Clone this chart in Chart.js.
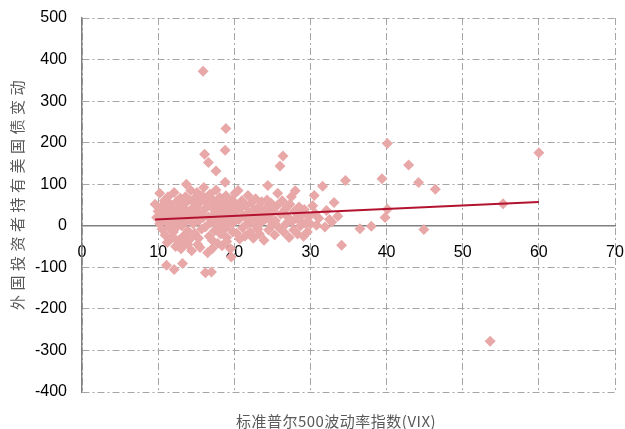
<!DOCTYPE html>
<html>
<head>
<meta charset="utf-8">
<script src="https://cdn.jsdelivr.net/npm/chart.js@4.4.1/dist/chart.umd.min.js"></script>
<style>
  html, body { margin: 0; padding: 0; background: #fff; }
  #wrap { width: 625px; height: 429px; }
</style>
</head>
<body>
<div id="wrap"><canvas id="vixChart" width="625" height="429"></canvas></div>
<script>
// VIX vs. change in foreign holdings of US treasuries
const vixValues = [
  9.6, 9.8, 10.0, 10.2, 10.2, 10.4, 10.5, 10.6, 10.8, 10.9, 11.0, 11.1, 11.2, 11.3, 11.4, 11.5,
  11.6, 11.7, 11.8, 11.9, 12.0, 12.1, 12.2, 12.3, 12.4, 12.5, 12.6, 12.7, 12.8, 12.9, 13.0, 13.0,
  13.1, 13.2, 13.3, 13.4, 13.5, 13.6, 13.7, 13.8, 13.9, 14.0, 14.1, 14.2, 14.3, 14.4, 14.5,
  14.6, 14.7, 14.8, 14.9, 15.0, 15.1, 15.2, 15.3, 15.4, 15.5, 15.6, 15.7, 15.8, 15.9, 16.0,
  16.1, 16.2, 16.3, 16.5, 16.6, 16.7, 16.8, 16.9, 17.0, 17.1, 17.2, 17.3, 17.4, 17.5, 17.6,
  17.7, 17.8, 17.9, 18.0, 18.1, 18.2, 18.3, 18.4, 18.5, 18.6, 18.7, 18.8, 18.9, 19.0, 19.1,
  19.2, 19.3, 19.5, 19.6, 19.7, 19.8, 19.9,
  20.0, 20.1, 20.2, 20.3, 20.5, 20.6, 20.7, 20.8, 21.0, 21.1, 21.2, 21.4, 21.5, 21.7, 21.8,
  21.9, 22.1, 22.2, 22.3, 22.5, 22.6, 22.8, 22.9, 23.0, 23.2, 23.3, 23.5, 23.6, 23.8, 23.9,
  24.0, 24.2, 24.4, 24.5, 24.6, 24.8, 24.9,
  25.1, 25.3, 25.4, 25.6, 25.7, 25.9, 26.0, 26.1, 26.3, 26.4, 26.5, 26.7, 26.8, 27.0, 27.2,
  27.3, 27.5, 27.6, 27.8, 27.9, 28.0, 28.2, 28.3, 28.5, 28.7, 28.9, 29.1, 29.2, 29.3, 29.6,
  29.8, 30.0,
  30.3, 30.5, 30.6, 30.8, 31.1, 31.6, 31.9, 32.1, 32.5, 32.8, 33.1, 33.6, 34.1, 34.6, 36.5,
  38.0, 39.4, 39.8, 40.1, 40.1, 42.9, 44.2, 44.9, 46.4, 53.6, 55.3, 60.0,
  15.9, 18.9, 18.8, 16.1, 16.6, 17.6, 18.8, 11.1, 12.1, 13.2, 16.2, 17.0, 19.6,
  10.7, 11.4, 12.3, 13.6, 14.8, 15.6, 16.4, 17.3, 18.2, 19.4, 20.4, 21.3, 22.4, 23.4, 24.3,
  12.0, 13.9, 15.3, 17.1, 19.0, 21.6, 23.1, 25.0, 26.9, 28.6
];
const holdingChanges = [
  52, 20, 35, 78, 5, 45, -8, 25, 60, -22, 12, 40, -40, 70, -5, 28,
  52, -30, 8, 38, -15, 80, 20, -50, 58, -2, 33, -35, 15, 66, -55, 45,
  0, 25, -25, 52, -42, 10, 100, 35, -12, 62, 18, -32, 85, -60, 42,
  5, 28, -18, 68, 48, 80, -45, 12, 55, -52, 30, -8, 72, 20, 92,
  40, -3, 58, -65, 22, -25, 76, 8, 45, -35, 62, 15, -12, 32, 86,
  50, -42, 2, 25, 68, -20, 40, -48, 12, 58, -8, 30, 72, -28, 48,
  0, 18, -55, 38, 62, -15, 8,
  30, 78, 50, -18, 85, 15, -32, 42, 60, -5, 25, -25, 48, 5, 73,
  32, -15, 55, 12, -30, 38, 65, -2, 22, 45, -20, 8, 58, 30, -35,
  15, 42, 97, -10, 25, 55, 0,
  35, -22, 12, 48, 78, -5, 144, 28, 60, 168, -15, 40, 5, 22, -28,
  52, 70, 10, -10, 35, 84, 18, -20, 45, 0, 28, -25, 39, 6, -15,
  22, 4,
  48, 73, 30, 1, 18, 95, -3, 37, 15, 9, 56, 23, -47, 109, -7,
  -1, 113, 20, 198, 40, 146, 104, -9, 88, -278, 53, 176,
  372, 234, 182, 172, 152, 132, 105, -95, -105, -91, -113, -111, -75,
  48, 22, 38, 70, 55, 35, 68, 22, 48, 28, 38, 52, 30, 40, 62,
  -28, -45, -30, -55, -38, 18, -8, 8, 46, 14
];
// fitted line
const trendX = [9.6, 60];
const trendY = [15, 57];

const xTitle = "标准普尔500波动率指数(VIX)";
const yTitle = "外国投资者持有美国债变动";

const points = vixValues.map((v, i) => ({ x: v, y: holdingChanges[i] }));
const trend = trendX.map((v, i) => ({ x: v, y: trendY[i] }));

const tickFont = { family: "'Liberation Sans', Arial, sans-serif", size: 16 };
const gridDash = [7, 3, 2, 3];

const axisTitles = {
  id: "axisTitles",
  afterDraw(chart) {
    const c = chart.ctx;
    c.save();
    c.fillStyle = "#595959";
    c.textAlign = "center";
    c.textBaseline = "middle";
    c.font = "15px 'Noto Sans CJK SC'";
    c.letterSpacing = "0.5px";
    c.fillText(xTitle, 336, 421);
    c.translate(17, 193);
    c.rotate(-Math.PI / 2);
    c.letterSpacing = "4.5px";
    c.fillText(yTitle, 0, 0);
    c.restore();
  }
};

new Chart(document.getElementById("vixChart"), {
  type: "scatter",
  data: {
    datasets: [
      {
        type: "line",
        data: trend,
        borderColor: "#b3132f",
        borderWidth: 2,
        pointRadius: 0,
        fill: false
      },
      {
        data: points,
        pointStyle: "rectRot",
        pointRadius: 5.5,
        backgroundColor: "#e8a8a8",
        borderWidth: 0
      }
    ]
  },
  options: {
    responsive: false,
    animation: false,
    devicePixelRatio: 1,
    layout: { padding: { top: 18, right: 10, bottom: 37, left: 0 } },
    plugins: {
      legend: { display: false },
      tooltip: { enabled: false }
    },
    scales: {
      x: {
        type: "linear",
        min: 0,
        max: 70,
        position: { y: 0 },
        afterFit: (s) => { s.height = 0; s.paddingLeft = 0; s.paddingRight = 0; },
        ticks: { stepSize: 10, font: tickFont, color: "#000", padding: 17 },
        grid: { color: "#a6a6a6", lineWidth: 1, drawTicks: false },
        border: { display: true, color: "#808080", width: 1.5, dash: gridDash }
      },
      y: {
        min: -400,
        max: 500,
        afterFit: (s) => { s.width = 82; s.paddingTop = 0; s.paddingBottom = 0; },
        ticks: { stepSize: 100, font: tickFont, color: "#000", padding: 15 },
        grid: { color: "#a6a6a6", lineWidth: 1, drawTicks: false },
        border: { display: true, color: "#808080", width: 1.5, dash: gridDash }
      }
    }
  },
  plugins: [axisTitles]
});
</script>
</body>
</html>
